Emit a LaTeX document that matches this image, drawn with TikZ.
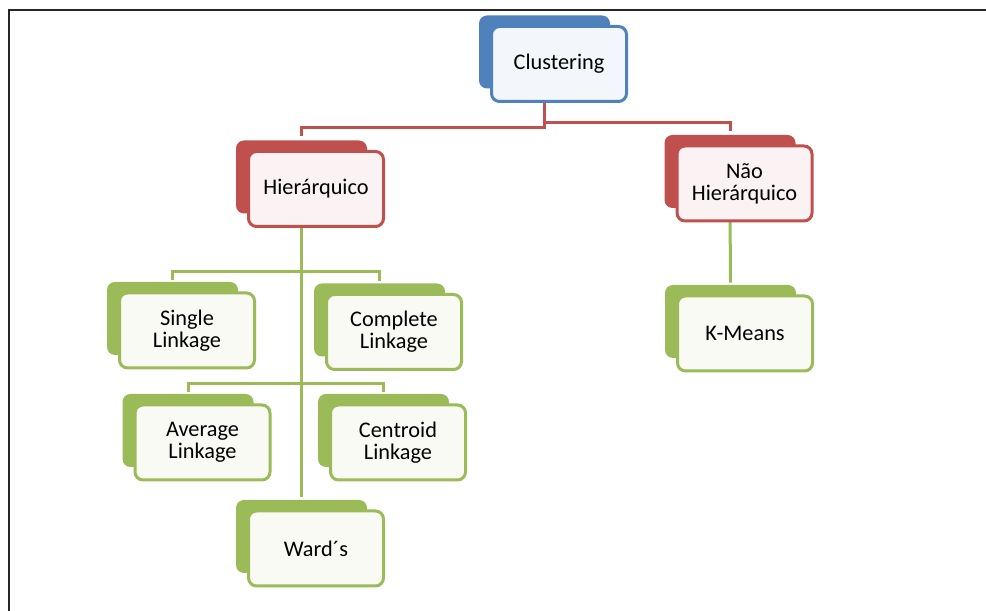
\documentclass[tikz,border=0pt]{standalone}
\usepackage{fontspec}
\setmainfont{Carlito}
\usetikzlibrary{calc}
\usetikzlibrary{backgrounds}
\definecolor{offblue}{HTML}{4F81BD}
\definecolor{offred}{HTML}{C0504D}
\definecolor{offgreen}{HTML}{9BBB59}
\tikzset{
  backbox/.style={fill=#1, rounded corners=0.16cm, minimum width=2.62cm, minimum height=1.46cm, inner sep=0pt},
  frontbox/.style={draw=#1, fill=#1!7, line width=0.06cm, rounded corners=0.16cm, minimum width=2.70cm, minimum height=1.50cm, inner sep=0pt, align=center, font=\fontsize{12.7}{12.5}\selectfont, xshift=0.29cm, yshift=-0.24cm},
  link/.style={#1, line width=0.06cm},
}

\begin{document}
\begin{tikzpicture}

\useasboundingbox (0,0) rectangle (19.72,12.22);
\draw[line width=0.04cm, black!85] (19.72,12.02) -- (0.18,12.02) -- (0.18,0);

% back plates
\node[backbox=offblue]  (clu-b)  at (10.89,11.18) {};
\node[backbox=offred]   (hier-b) at (6.03,8.68) {};
\node[backbox=offred]   (nh-b)   at (14.60,8.79) {};
\node[backbox=offgreen] (single-b)   at (3.45,5.85) {};
\node[backbox=offgreen] (complete-b) at (7.59,5.82) {};
\node[backbox=offgreen] (average-b)  at (3.76,3.61) {};
\node[backbox=offgreen] (centroid-b) at (7.67,3.61) {};
\node[backbox=offgreen] (ward-b)     at (6.03,1.49) {};
\node[backbox=offgreen] (km-b)       at (14.61,5.79) {};

% front boxes
\node[frontbox=offblue]  (clu)  at (clu-b)  {Clustering};
\node[frontbox=offred]   (hier) at (hier-b) {Hierárquico};
\node[frontbox=offred]   (nh)   at (nh-b)   {Não\\Hierárquico};
\node[frontbox=offgreen] (single)   at (single-b)   {Single\\Linkage};
\node[frontbox=offgreen] (complete) at (complete-b) {Complete\\Linkage};
\node[frontbox=offgreen] (average)  at (average-b)  {Average\\Linkage};
\node[frontbox=offgreen] (centroid) at (centroid-b) {Centroid\\Linkage};
\node[frontbox=offgreen] (ward)     at (ward-b)     {Ward´s};
\node[frontbox=offgreen] (km)       at (km-b)       {K-Means};

% connectors
\begin{scope}[on background layer]
\draw[link=offred] (clu-b.south) -- ++(0,-0.78) -| ($(hier-b.north)+(0,0.08)$);
\draw[link=offred] (clu-b.south) -- ++(0,-0.68) -| ($(nh-b.north)+(0,0.08)$);
\draw[link=offgreen] (hier-b.south) -- ($(ward-b.north)+(0,0.06)$);
\draw[link=offgreen] ($(single-b.north)+(0,0.04)$) -- ++(0,0.16) -| ($(complete-b.north)+(0,0.04)$);
\draw[link=offgreen] ($(average-b.north)+(0,0.04)$) -- ++(0,0.16) -| ($(centroid-b.north)+(0,0.04)$);
\draw[link=offgreen] (nh-b.south) -- ($(km-b.north)+(0,0.04)$);
\end{scope}

\end{tikzpicture}
\end{document}
